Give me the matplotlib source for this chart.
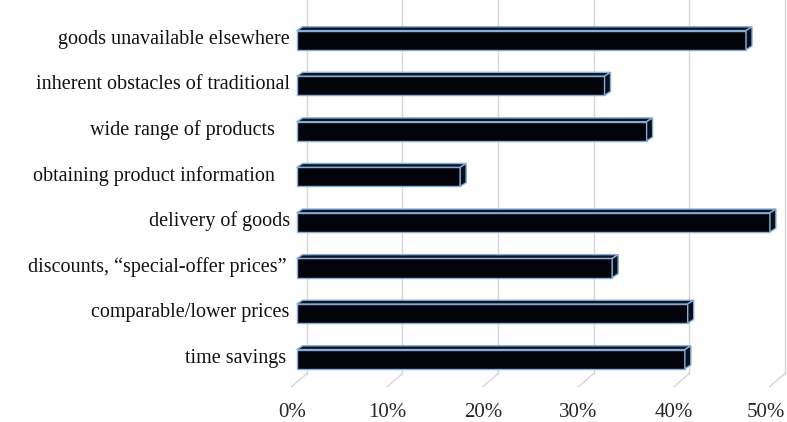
import matplotlib
matplotlib.use("Agg")
import matplotlib.pyplot as plt
from matplotlib.patches import Polygon
from matplotlib.transforms import ScaledTranslation

# Reasons for shopping online, share of respondents (%)
categories = [
    "time savings",
    "comparable/lower prices",
    "discounts, \u201cspecial-offer prices\u201d",
    "delivery of goods",
    "obtaining product information",
    "wide range of products",
    "inherent obstacles of traditional",
    "goods unavailable elsewhere",
]
values = [40.6, 40.9, 33.0, 49.5, 17.1, 36.6, 32.2, 47.0]
x_ticks = [0, 10, 20, 30, 40, 50]
x_tick_labels = ["0%", "10%", "20%", "30%", "40%", "50%"]

W, H, DPI = 787, 422, 100
fig = plt.figure(figsize=(W / DPI, H / DPI), dpi=DPI)
fig.patch.set_facecolor("white")

# axes = front edge of the floor plane of the 3-D plot box (pixel layout)
left_px, right_px, bottom_px, top_px = 291.7, 769.7, 386.7, 13.0
ax = fig.add_axes([left_px / W, 1 - bottom_px / H,
                   (right_px - left_px) / W, (bottom_px - top_px) / H])
ax.set_xlim(0, 50)
ax.set_ylim(-0.51, len(categories) - 1 + 0.69)
ax.axis("off")

font = ["Liberation Serif", "DejaVu Serif"]
px = lambda p: p / DPI  # pixels -> inches

# perspective offsets (pixels): back wall, bar front face, bar depth
wall_dx, wall_dy = 15.0, 13.0
face_dx, face_dy = 5.0, 4.3
depth_dx, depth_dy = 6.0, 3.8

wall_off = ax.transData + ScaledTranslation(px(wall_dx), px(wall_dy), fig.dpi_scale_trans)
y0, y1 = ax.get_ylim()
grid_c = "#d6d6d6"
for t in x_ticks:
    # vertical gridline on the back wall
    ax.plot([t, t], [y0, y1], color=grid_c, lw=1.0, transform=wall_off,
            clip_on=False, zorder=1)
# diagonal floor lines from front edge to back wall
trans = ax.transData
for t in x_ticks:
    fx, fy = trans.transform((t, y0))
    fig.add_artist(plt.Line2D([fx, fx + wall_dx], [fy, fy + wall_dy],
                              color=grid_c, lw=1.0, transform=None, zorder=1))

# x tick labels along the front edge of the floor (last one kept inside the canvas)
for k, (t, lab) in enumerate(zip(x_ticks, x_tick_labels)):
    nudge = -4 if k == len(x_ticks) - 1 else 0
    ax.text(t, y0, lab, ha="center", va="top", fontsize=15, family=font,
            color="#262626",
            transform=ax.transData + ScaledTranslation(px(nudge), -px(16),
                                                       fig.dpi_scale_trans),
            clip_on=False)

bar_h = 0.42
edge_c = "#86aed6"
face_off = ScaledTranslation(px(face_dx), px(face_dy), fig.dpi_scale_trans)

for i, v in enumerate(values):
    # front face
    ax.barh(i, v, height=bar_h, color="#020409", edgecolor=edge_c,
            linewidth=1.0, transform=ax.transData + face_off, zorder=4)
    # top and side faces, computed in display space
    xl, yt = trans.transform((0, i + bar_h / 2))
    xr, yb = trans.transform((v, i - bar_h / 2))
    xl, xr = xl + face_dx, xr + face_dx
    yt, yb = yt + face_dy, yb + face_dy
    top = Polygon([(xl, yt), (xr, yt), (xr + depth_dx, yt + depth_dy),
                   (xl + depth_dx, yt + depth_dy)], closed=True,
                  facecolor="#0b1526", edgecolor=edge_c, lw=1.0,
                  transform=None, zorder=3)
    side = Polygon([(xr, yb), (xr, yt), (xr + depth_dx, yt + depth_dy),
                    (xr + depth_dx, yb + depth_dy)], closed=True,
                   facecolor="#08101d", edgecolor=edge_c, lw=1.0,
                   transform=None, zorder=3)
    fig.add_artist(top)
    fig.add_artist(side)

# category labels, right-aligned next to the bars
label_pad = {4: 17, 5: 17, 2: 5, 0: 6}
for i, name in enumerate(categories):
    pad = label_pad.get(i, 2)
    ax.text(0, i, name, ha="right", va="center", fontsize=14.5, family=font,
            color="#111111",
            transform=ax.transData + ScaledTranslation(-px(pad), px(face_dy + 1),
                                                       fig.dpi_scale_trans),
            clip_on=False)

fig.savefig("out.png", dpi=DPI, facecolor="white")
